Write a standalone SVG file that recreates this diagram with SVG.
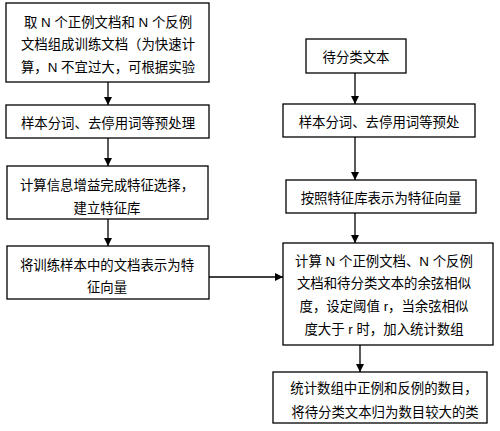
<svg xmlns="http://www.w3.org/2000/svg" width="500" height="431" viewBox="0 0 500 431">
<style>
.box{fill:#fff;stroke:#000;stroke-width:1.3}
.t{font-family:"Liberation Sans","Noto Sans CJK SC",sans-serif;font-size:13.4px;fill:#000;text-anchor:middle}
.c{stroke:#000;stroke-width:1.3;fill:none;marker-end:url(#ah)}
</style>
<defs>
<marker id="ah" markerUnits="userSpaceOnUse" markerWidth="10" markerHeight="10" refX="8" refY="4" orient="auto">
<path d="M0,0 L8,4 L0,8 Z" fill="#000"/>
</marker>
</defs>
<rect width="500" height="431" fill="#fff"/>
<g id="connectors">
<line class="c" x1="108" y1="82" x2="108" y2="105"/>
<line class="c" x1="108" y1="138" x2="108" y2="166"/>
<line class="c" x1="108" y1="219" x2="108" y2="246"/>
<line class="c" x1="209" y1="277" x2="283" y2="277"/>
<line class="c" x1="355" y1="73" x2="355" y2="104"/>
<line class="c" x1="355" y1="137" x2="355" y2="180"/>
<line class="c" x1="355" y1="213" x2="355" y2="243"/>
<line class="c" x1="360" y1="345" x2="360" y2="372"/>
</g>
<g id="n1">
<rect class="box" x="6" y="3" width="203" height="79"/>
<text class="t" x="108" y="27">取 N 个正例文档和 N 个反例</text>
<text class="t" x="108" y="49">文档组成训练文档（为快速计</text>
<text class="t" x="108" y="72">算，N 不宜过大，可根据实验</text>
</g>
<g id="n2">
<rect class="box" x="6" y="105" width="203" height="33"/>
<text class="t" x="108" y="127.5">样本分词、去停用词等预处理</text>
</g>
<g id="n3">
<rect class="box" x="7" y="166" width="201" height="53"/>
<text class="t" x="107" y="190">计算信息增益完成特征选择，</text>
<text class="t" x="107" y="213">建立特征库</text>
</g>
<g id="n4">
<rect class="box" x="7" y="246" width="202" height="53"/>
<text class="t" x="107" y="269.5">将训练样本中的文档表示为特</text>
<text class="t" x="107" y="291.5">征向量</text>
</g>
<g id="r1">
<rect class="box" x="306" y="39" width="100" height="34"/>
<text class="t" x="356" y="62">待分类文本</text>
</g>
<g id="r2">
<rect class="box" x="283" y="104" width="192" height="33"/>
<text class="t" x="379" y="126.5">样本分词、去停用词等预处</text>
</g>
<g id="r3">
<rect class="box" x="286" y="180" width="190" height="33"/>
<text class="t" x="381" y="202.5">按照特征库表示为特征向量</text>
</g>
<g id="r4">
<rect class="box" x="283" y="243" width="210" height="102"/>
<text class="t" x="384" y="266">计算 N 个正例文档、N 个反例</text>
<text class="t" x="384" y="288">文档和待分类文本的余弦相似</text>
<text class="t" x="384" y="311">度，设定阈值 r，当余弦相似</text>
<text class="t" x="384" y="334">度大于 r 时，加入统计数组</text>
</g>
<g id="r5">
<rect class="box" x="273" y="372" width="214" height="51"/>
<text class="t" x="384" y="393">统计数组中正例和反例的数目，</text>
<text class="t" x="385" y="416.5">将待分类文本归为数目较大的类</text>
</g>
</svg>
